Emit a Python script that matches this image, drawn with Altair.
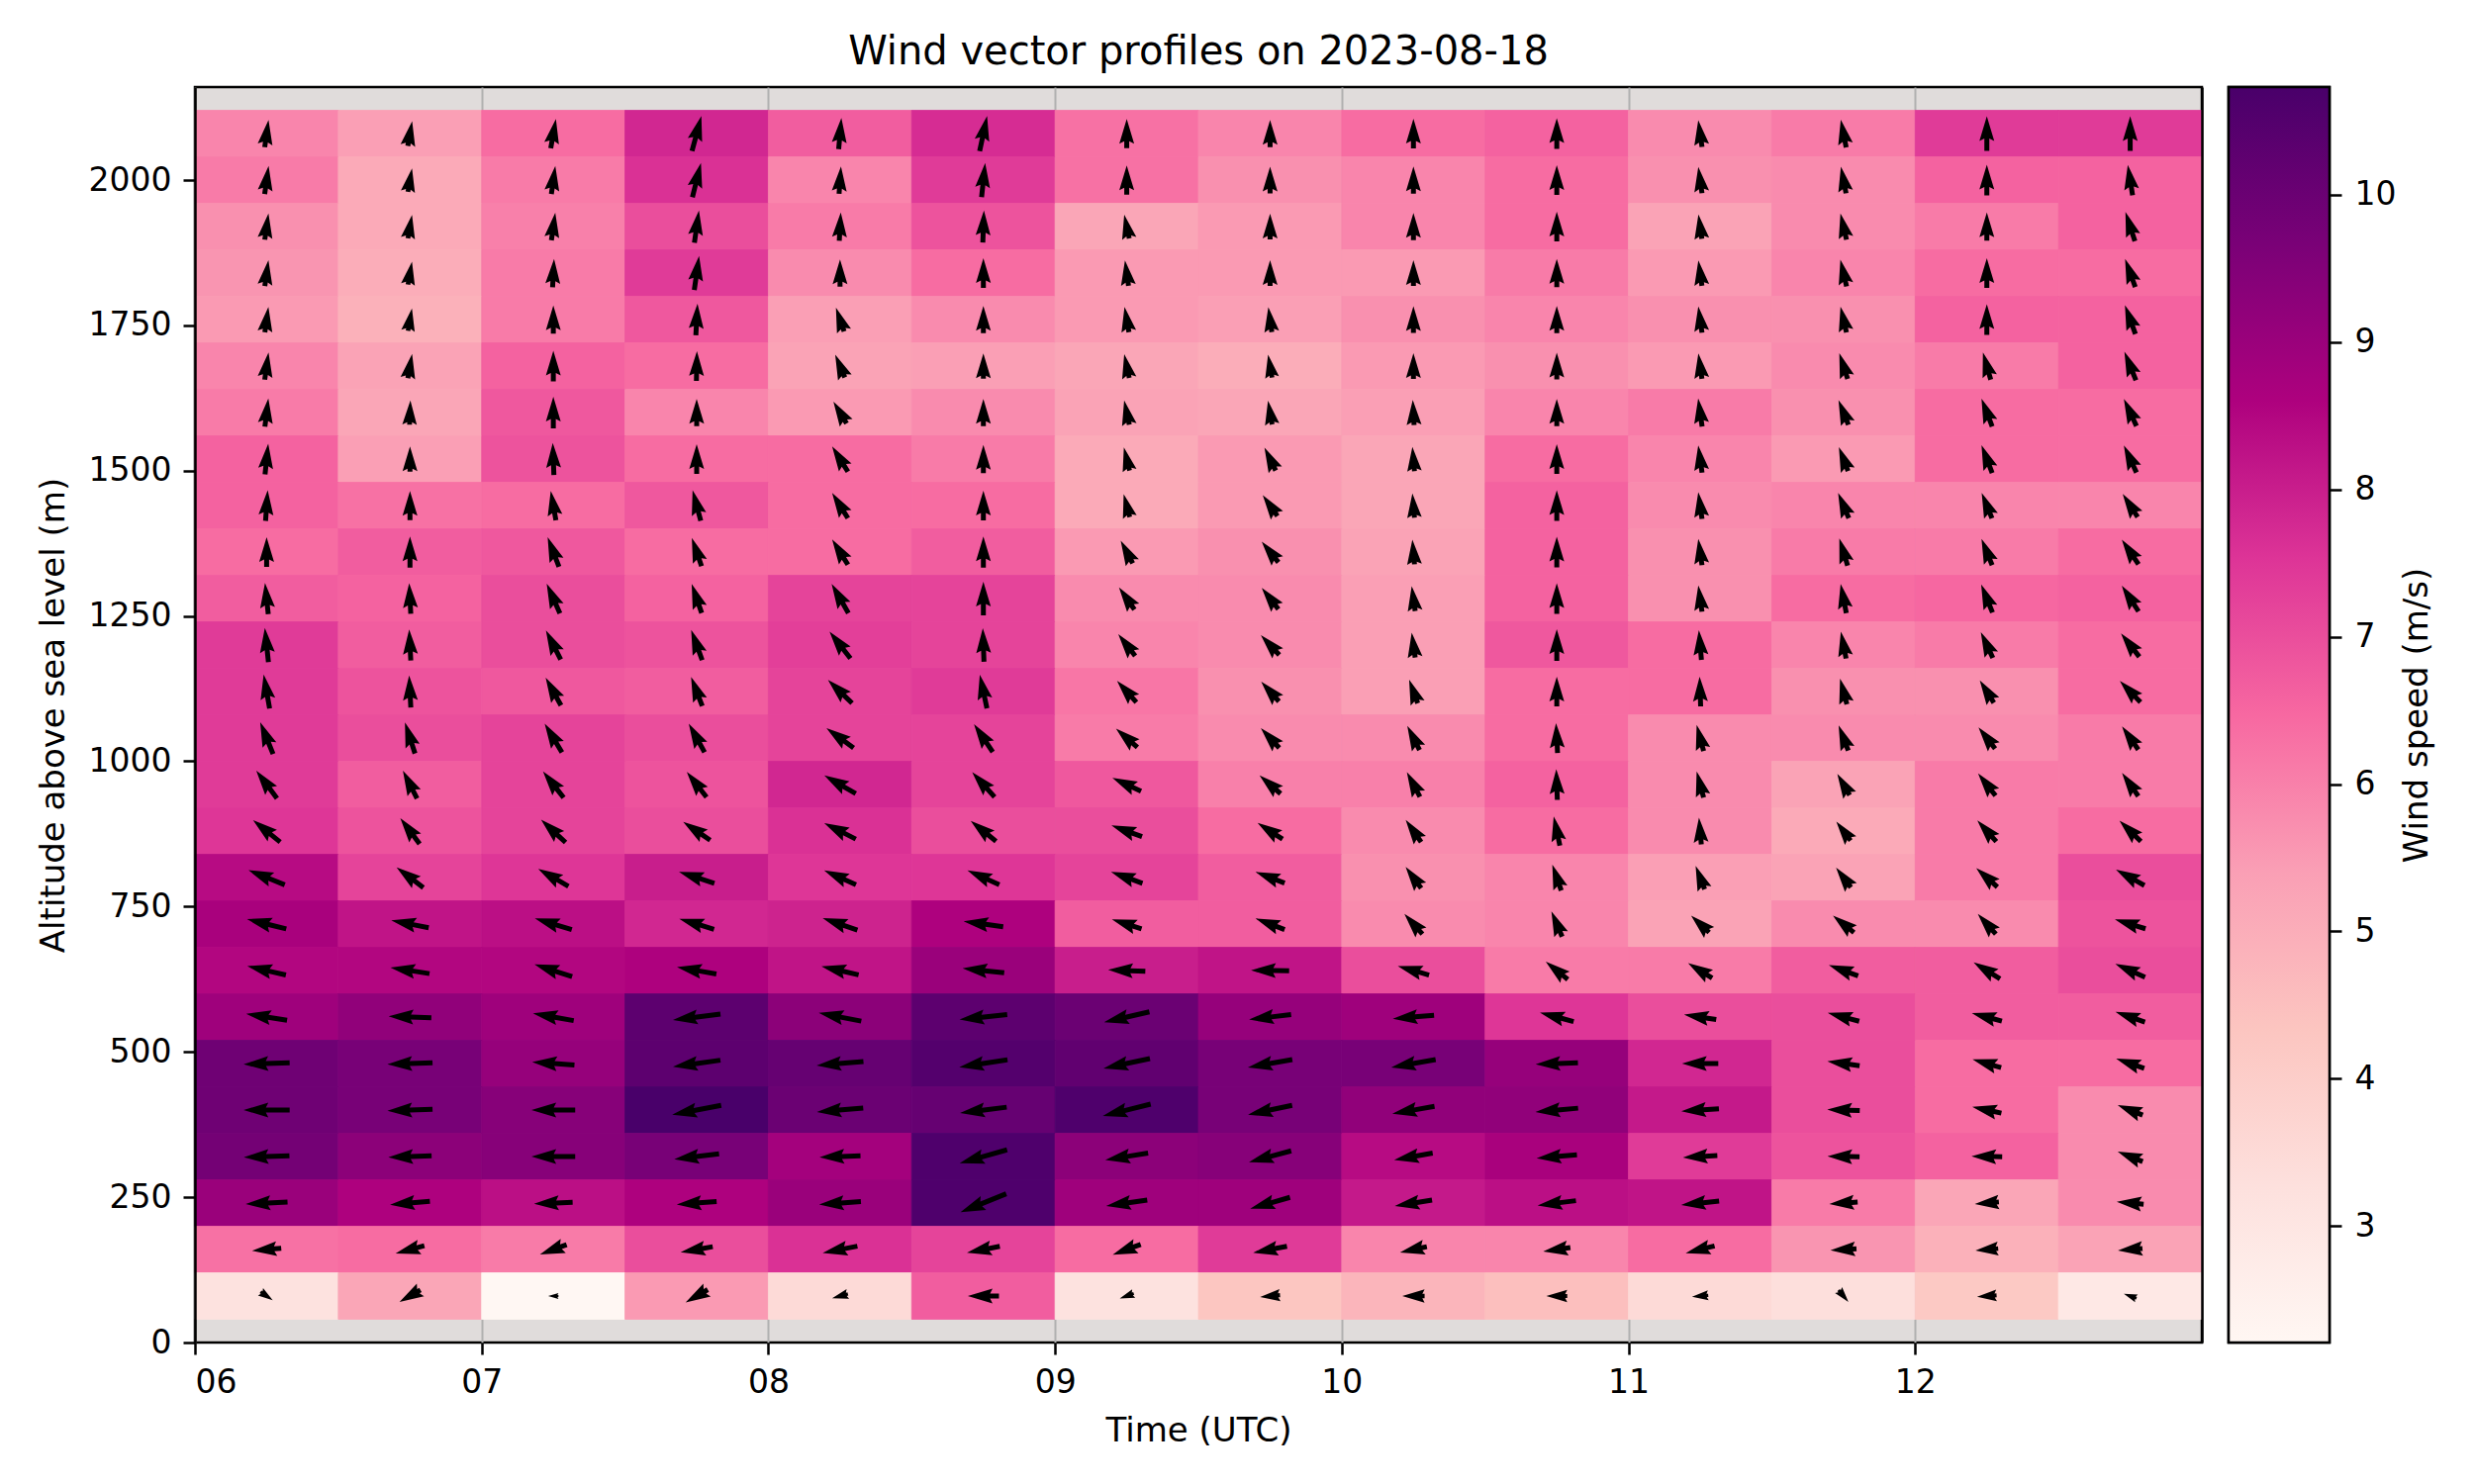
import altair as alt
import pandas as pd

# ---------------- data ----------------
TIMES = ["06:00", "06:30", "07:00", "07:30", "08:00", "08:30", "09:00",
         "09:30", "10:00", "10:30", "11:00", "11:30", "12:00", "12:30"]

ALTITUDES = [2080, 2000, 1920, 1840, 1760, 1680, 1600, 1520, 1440, 1360, 1280,
             1200, 1120, 1040, 960, 880, 800, 720, 640, 560, 480, 400, 320,
             240, 160, 80]

# wind speed (m/s), one row per altitude (top to bottom), one value per time
SPEED = [
    [5.9, 5.4, 6.4, 7.8, 6.7, 7.7, 6.3, 5.9, 6.4, 6.6, 5.8, 6.1, 7.4, 7.4],
    [6.1, 5.1, 6.1, 7.6, 5.9, 7.4, 6.3, 5.7, 5.9, 6.4, 5.7, 5.8, 6.6, 6.6],
    [5.7, 5.1, 6.0, 7.0, 6.1, 6.9, 5.2, 5.5, 5.9, 6.4, 5.3, 5.8, 6.1, 6.6],
    [5.6, 5.0, 6.1, 7.4, 5.8, 6.4, 5.5, 5.5, 5.5, 6.1, 5.5, 5.9, 6.4, 6.4],
    [5.5, 4.9, 6.1, 6.8, 5.4, 5.8, 5.5, 5.4, 5.7, 5.9, 5.7, 5.7, 6.6, 6.6],
    [5.9, 5.3, 6.6, 6.4, 5.3, 5.4, 5.2, 5.0, 5.5, 5.7, 5.5, 5.8, 6.1, 6.6],
    [6.1, 5.2, 6.8, 5.9, 5.5, 5.8, 5.3, 5.2, 5.4, 5.9, 6.1, 5.7, 6.4, 6.4],
    [6.6, 5.4, 6.9, 6.4, 6.4, 6.1, 5.1, 5.5, 5.2, 6.4, 5.9, 5.5, 6.4, 6.4],
    [6.6, 6.3, 6.4, 6.8, 6.4, 6.4, 5.1, 5.5, 5.2, 6.6, 5.8, 5.9, 5.9, 5.9],
    [6.4, 6.7, 6.8, 6.4, 6.4, 6.7, 5.5, 5.7, 5.3, 6.6, 5.7, 6.1, 6.1, 6.4],
    [6.7, 6.6, 7.0, 6.6, 7.2, 7.2, 5.8, 5.8, 5.4, 6.6, 5.7, 6.4, 6.5, 6.6],
    [7.4, 6.7, 7.0, 6.9, 7.3, 7.2, 5.9, 5.8, 5.4, 6.8, 6.4, 5.9, 6.1, 6.4],
    [7.4, 6.9, 6.8, 6.7, 7.2, 7.4, 6.2, 5.7, 5.4, 6.4, 6.4, 5.7, 5.7, 6.4],
    [7.4, 7.0, 7.2, 7.0, 7.2, 7.2, 6.1, 5.8, 5.8, 6.4, 5.8, 5.8, 5.8, 6.1],
    [7.4, 6.7, 7.2, 6.9, 7.8, 7.2, 6.8, 6.0, 6.0, 6.6, 5.8, 5.3, 6.1, 6.1],
    [7.5, 6.9, 7.2, 7.0, 7.6, 7.0, 7.0, 6.4, 5.8, 6.4, 5.8, 5.1, 6.1, 6.4],
    [8.4, 7.2, 7.5, 8.0, 7.5, 7.5, 7.2, 6.7, 5.7, 5.9, 5.4, 5.3, 6.1, 7.0],
    [8.7, 8.2, 8.3, 7.8, 7.9, 8.6, 6.7, 6.7, 5.8, 5.9, 5.3, 5.8, 5.8, 6.9],
    [8.5, 8.5, 8.5, 8.6, 8.2, 9.0, 8.0, 8.2, 7.0, 6.1, 6.1, 6.7, 6.7, 7.0],
    [8.9, 9.2, 8.9, 10.3, 9.3, 10.3, 10.0, 9.1, 8.9, 7.5, 7.0, 7.0, 6.7, 6.7],
    [9.9, 9.7, 9.1, 10.3, 10.1, 10.5, 10.2, 9.7, 9.7, 9.1, 7.8, 7.0, 6.4, 6.4],
    [9.9, 9.7, 9.4, 10.73, 10.0, 10.1, 10.6, 9.7, 9.2, 9.2, 8.1, 7.0, 6.4, 5.8],
    [9.8, 9.3, 9.4, 9.7, 8.8, 10.6, 9.3, 9.4, 8.4, 8.7, 7.4, 6.9, 6.6, 5.8],
    [9.0, 8.6, 8.3, 8.6, 9.0, 10.6, 8.9, 8.9, 8.1, 8.3, 8.2, 6.1, 5.2, 5.8],
    [6.3, 6.4, 6.1, 7.0, 7.6, 7.2, 6.4, 7.4, 5.9, 5.9, 6.4, 5.6, 4.9, 5.3],
    [3.2, 5.2, 2.21, 5.5, 3.5, 6.7, 3.2, 4.3, 4.8, 4.5, 3.5, 3.3, 4.2, 2.9],
]

# direction the arrow points (degrees clockwise from up), same layout
DIRECTION = [
    [8, 10, 10, 15, 5, 12, 0, 0, 0, 0, 352, 349, 0, 0],
    [8, 10, 8, 14, 4, 6, 0, 0, 0, 0, 352, 349, 0, 351],
    [8, 10, 8, 8, 3, 2, 348, 0, 0, 0, 352, 347, 0, 342],
    [8, 10, 3, 8, 0, 0, 352, 0, 0, 0, 352, 347, 0, 340],
    [8, 10, 0, 3, 341, 0, 350, 352, 0, 0, 352, 347, 0, 340],
    [8, 10, 0, 1, 337, 0, 348, 350, 0, 0, 352, 342, 344, 338],
    [7, 2, 0, 0, 329, 0, 348, 350, 357, 0, 352, 338, 339, 335],
    [6, 0, 358, 0, 328, 0, 346, 334, 355, 0, 352, 339, 339, 335],
    [4, 0, 350, 345, 328, 0, 345, 325, 355, 0, 352, 337, 338, 327],
    [0, 0, 339, 341, 328, 0, 332, 321, 355, 0, 352, 343, 338, 326],
    [354, 357, 336, 341, 330, 0, 325, 322, 352, 0, 352, 349, 338, 327],
    [354, 357, 333, 340, 322, 358, 322, 317, 352, 0, 355, 349, 335, 322],
    [350, 357, 331, 339, 314, 348, 318, 318, 340, 0, 358, 345, 328, 316],
    [338, 342, 329, 331, 306, 326, 311, 317, 333, 357, 345, 339, 322, 325],
    [323, 333, 322, 322, 300, 318, 295, 311, 332, 358, 345, 330, 322, 325],
    [309, 323, 313, 304, 297, 309, 290, 303, 325, 348, 355, 323, 318, 314],
    [292, 307, 300, 288, 294, 294, 290, 291, 324, 341, 339, 323, 312, 299],
    [284, 281, 287, 287, 289, 278, 288, 291, 318, 337, 313, 309, 318, 287],
    [283, 279, 288, 280, 283, 276, 272, 271, 286, 309, 302, 290, 302, 294],
    [279, 272, 280, 263, 281, 264, 257, 263, 265, 285, 279, 285, 285, 289],
    [268, 268, 274, 262, 265, 261, 258, 260, 260, 268, 270, 278, 286, 289],
    [270, 268, 270, 259, 265, 263, 256, 258, 260, 265, 266, 272, 282, 292],
    [268, 268, 270, 263, 268, 254, 261, 255, 260, 265, 267, 271, 271, 292],
    [267, 265, 268, 266, 266, 248, 262, 254, 261, 263, 264, 266, 265, 275],
    [265, 255, 250, 260, 259, 259, 250, 259, 258, 262, 256, 267, 265, 265],
    [125, 240, 270, 240, 255, 270, 250, 265, 270, 270, 265, 140, 266, 290],
]

ALT_STEP = 80          # altitude spacing of the profile levels (m)
TIME_STEP = 0.5        # time spacing of the profiles (h)
VMIN, VMAX = 2.21, 10.73
RDPU = ["#fff7f3", "#fde0dd", "#fcc5c0", "#fa9fb5", "#f768a1",
        "#dd3497", "#ae017e", "#7a0177", "#49006a"]

# ---------------- sizes / styles ----------------
W_PLOT, H_PLOT = 2028, 1269
CB_W = 102
FONT = "DejaVu Sans"
PX_PER_MS = 4.7        # quiver length scale (px per m/s)
SHAFT = 5.0            # quiver shaft width (px)
SYM_SIZE = 10000       # symbol size -> path unit = sqrt(size)/2 px
UNIT = SYM_SIZE ** 0.5 / 2


def arrow_path(speed):
    """matplotlib-quiver-like arrow, centred (pivot='middle'), pointing up."""
    L = speed * PX_PER_MS
    w = SHAFT
    hl, hal, hw = 5 * w, 4.5 * w, 1.5 * w
    if L >= hl:
        X = [0, L - hal, L - hl, L, L - hl, L - hal, 0]
        Y = [w / 2, w / 2, hw, 0, -hw, -w / 2, -w / 2]
    else:
        s = L / hl
        X = [0, (hl - hal) * s, 0, hl * s, 0, (hl - hal) * s, 0]
        Y = [w / 2 * s, w / 2 * s, hw * s, 0, -hw * s, -w / 2 * s, -w / 2 * s]
    X = [x - L / 2 for x in X]
    pts = [(y / UNIT, -x / UNIT) for x, y in zip(X, Y)]
    return "M" + " L".join(f"{a:.4f},{b:.4f}" for a, b in pts) + " Z"


rows = []
for i, alt_m in enumerate(ALTITUDES):
    for j, t in enumerate(TIMES):
        h = int(t[:2]) + int(t[3:]) / 60
        sp = SPEED[i][j]
        rows.append({
            "time": t,
            "t0": h, "t1": h + TIME_STEP, "tc": h + TIME_STEP / 2,
            "alt": alt_m, "a0": alt_m - ALT_STEP / 2, "a1": alt_m + ALT_STEP / 2,
            "speed": sp, "dir": DIRECTION[i][j], "path": arrow_path(sp),
        })
df = pd.DataFrame(rows)

stops = [VMIN + k * (VMAX - VMIN) / (len(RDPU) - 1) for k in range(len(RDPU))]
color_scale = alt.Scale(domain=stops, range=RDPU, interpolate="rgb")
x_scale = alt.Scale(domain=[6, 13], nice=False, zero=False)
y_scale = alt.Scale(domain=[0, 2160], nice=False, zero=False)

base = alt.Chart(df)

heat = base.mark_rect(strokeWidth=0.8).encode(
    x=alt.X("t0:Q", scale=x_scale,
            axis=alt.Axis(values=[6, 7, 8, 9, 10, 11, 12],
                          labelExpr="(datum.value < 10 ? '0' : '') + datum.value",
                          title="Time (UTC)", grid=True, labelPadding=12,
                          titleX=W_PLOT / 2, titleY=99,
                          titleBaseline="alphabetic", titleAlign="center")),
    x2="t1:Q",
    y=alt.Y("a0:Q", scale=y_scale,
            axis=alt.Axis(values=[0, 250, 500, 750, 1000, 1250, 1500, 1750, 2000],
                          format="d",
                          title="Altitude above sea level (m)", grid=False,
                          domain=True, zindex=1, labelPadding=12,
                          titleAngle=270, titleX=-133, titleY=H_PLOT / 2,
                          titleAlign="center", titleBaseline="alphabetic")),
    y2="a1:Q",
    color=alt.Color("speed:Q", scale=color_scale, legend=None),
    stroke=alt.Stroke("speed:Q", scale=color_scale, legend=None),
)

arrows = base.mark_point(filled=True, color="black", opacity=1,
                         size=SYM_SIZE, strokeWidth=0).encode(
    x=alt.X("tc:Q", scale=x_scale),
    y=alt.Y("alt:Q", scale=y_scale,
            axis=alt.Axis(orient="right", labels=False, ticks=False,
                          title=None, grid=False, domain=True, zindex=1)),
    shape=alt.Shape("path:N", scale=None),
    angle=alt.Angle("dir:Q", scale=None),
)

main = alt.layer(heat, arrows).resolve_axis(y="independent").properties(
    width=W_PLOT, height=H_PLOT,
    title=alt.TitleParams("Wind vector profiles on 2023-08-18", fontSize=40,
                          font=FONT, fontWeight="normal", color="black",
                          anchor="middle", offset=-25, baseline="bottom",
                          frame="group"),
)

gradient = {
    "gradient": "linear",
    "x1": 0, "x2": 0, "y1": 1, "y2": 0,
    "stops": [{"offset": k / (len(RDPU) - 1), "color": c} for k, c in enumerate(RDPU)],
}

cbar = alt.Chart(pd.DataFrame({"lo": [VMIN], "hi": [VMAX]})).mark_rect(
    color=gradient, stroke="black", strokeWidth=2.5
).encode(
    y=alt.Y("lo:Q", scale=alt.Scale(domain=[VMIN, VMAX], nice=False, zero=False),
            axis=alt.Axis(orient="right", values=[3, 4, 5, 6, 7, 8, 9, 10],
                          title="Wind speed (m/s)", grid=False, labelPadding=13,
                          titleAngle=270, titleX=98, titleY=H_PLOT / 2,
                          titleAlign="center", titleBaseline="alphabetic")),
    y2="hi:Q",
).properties(width=CB_W, height=H_PLOT)

chart = alt.hconcat(main, cbar, spacing=22).resolve_scale(
    x="independent", y="independent"
).properties(
    padding={"left": 27, "top": 23, "right": 5, "bottom": 5}
).configure_view(
    stroke="black", strokeWidth=2.5, fill="#e0dcdb"
).configure_axis(
    labelFont=FONT, titleFont=FONT, labelFontSize=33, titleFontSize=34,
    labelColor="black", titleColor="black", titleFontWeight="normal",
    tickColor="black", tickWidth=2.5, tickSize=12, labelPadding=10,
    domain=False, domainColor="black", domainWidth=2.5,
    gridColor="#b0b0b0", gridWidth=2,
)

chart.save("out.html", embed_options={"renderer": "svg", "actions": False})
